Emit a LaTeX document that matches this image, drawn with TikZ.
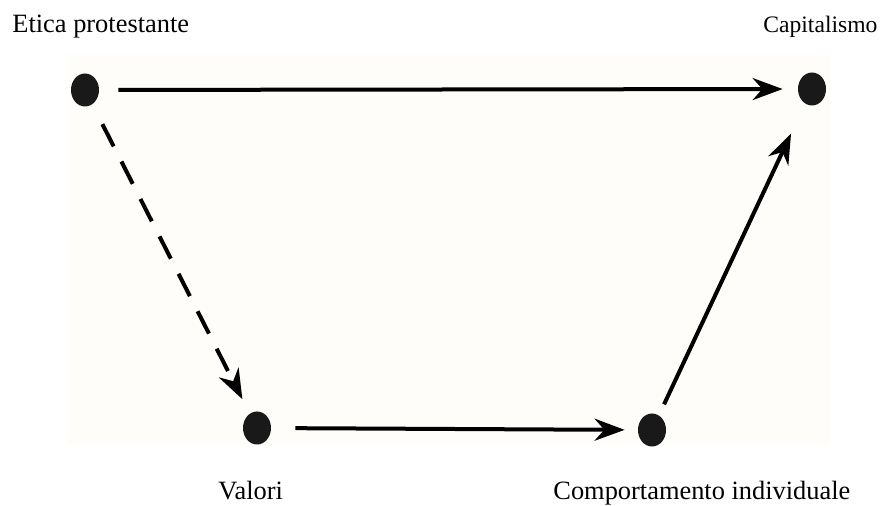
\documentclass[tikz,border=0pt]{standalone}
\usepackage{fontspec}
\setmainfont{Liberation Serif}
\usetikzlibrary{arrows.meta,shapes.geometric}
\definecolor{sfondo}{RGB}{254,253,249}
\tikzset{
  punto/.style={ellipse,fill=black!90,inner sep=0pt,minimum width=14pt,minimum height=16.5pt},
  etichetta/.style={inner sep=0pt,anchor=base west,font=\fontsize{13.2}{16}\selectfont},
  freccia/.style={line width=2pt,-{Stealth[length=15pt,width=11pt]}}
}
\begin{document}
\begin{tikzpicture}[x=0.5pt,y=-0.5pt]
\useasboundingbox (0,0) rectangle (882,506);
\fill[sfondo] (67,55) rectangle (830,445);
% punti
\node[punto] (etica) at (85,90) {};
\node[punto] (capit) at (812,89) {};
\node[punto] (valori) at (257,428) {};
\node[punto] (comp) at (652,430) {};
% testi
\node[etichetta] (tEtica) at (12,33) {Etica protestante};
\node[etichetta,font=\fontsize{11.8}{14}\selectfont] (tCapit) at (763,33) {Capitalismo};
\node[etichetta] (tValori) at (218,500) {Valori};
\node[etichetta] (tComp) at (553,500) {Comportamento individuale};
% frecce
\draw[freccia,shorten <=19pt*0.5,shorten >=15pt*0.5] (etica) -- (capit);
\draw[freccia,dash pattern=on 12.5pt off 8.5pt,shorten <=11pt,shorten >=8pt] (etica) -- (valori);
\draw[freccia,shorten <=12pt,shorten >=6.5pt] (valori) -- (comp);
\draw[freccia,shorten <=6pt,shorten >=16.5pt] (comp) -- (capit);
\end{tikzpicture}
\end{document}
